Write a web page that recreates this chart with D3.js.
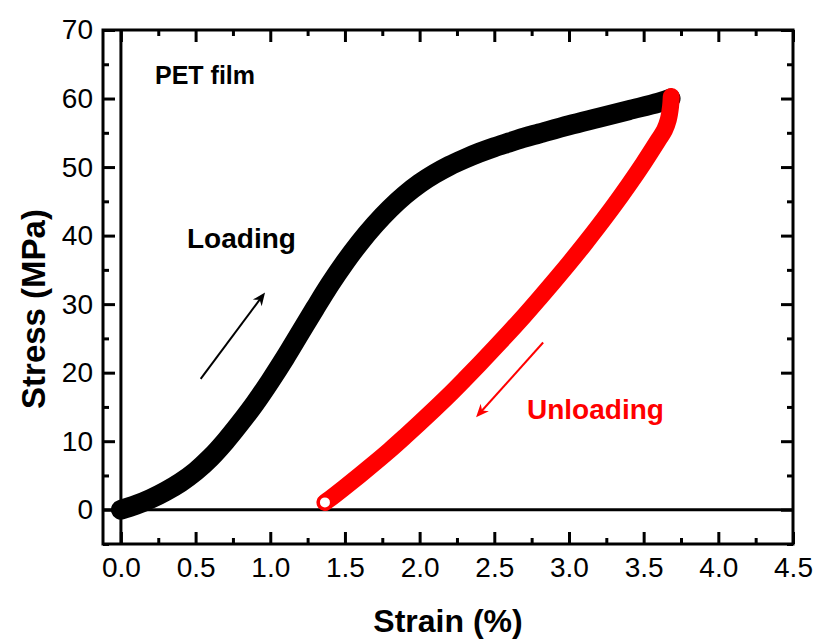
<!DOCTYPE html>
<html>
<head>
<meta charset="utf-8">
<script src="https://cdn.jsdelivr.net/npm/d3@7"></script>
<style>
  html, body { margin: 0; padding: 0; background: #fff; }
  svg text { font-family: "Liberation Sans", Arial, sans-serif; }
</style>
</head>
<body>
<svg id="chart" width="819" height="640"></svg>
<script>
// ---- data ----
const loadStrain = [0, 0.1, 0.2, 0.3, 0.4, 0.5, 0.6, 0.7, 0.8, 0.9, 1.0, 1.1, 1.2, 1.3, 1.4, 1.5, 1.6, 1.7, 1.8, 1.9, 2.0, 2.1, 2.2, 2.3, 2.4, 2.5, 2.6, 2.7, 2.8, 3.0, 3.2, 3.4, 3.6, 3.68];
const loadStress = [0, 0.7, 1.6, 2.7, 4.0, 5.6, 7.6, 10.0, 12.7, 15.6, 18.8, 22.2, 25.8, 29.4, 32.9, 36.1, 39.0, 41.6, 43.9, 45.9, 47.6, 49.0, 50.2, 51.2, 52.1, 52.9, 53.6, 54.3, 54.9, 56.1, 57.2, 58.3, 59.4, 60.0];

const unloadStrain = [3.685, 3.68, 3.665, 3.64, 3.6, 3.5, 3.4, 3.3, 3.2, 3.1, 3.0, 2.9, 2.8, 2.7, 2.6, 2.5, 2.4, 2.3, 2.2, 2.1, 2.0, 1.9, 1.8, 1.7, 1.6, 1.5, 1.4, 1.366];
const unloadStress = [60.3, 58.8, 56.9, 55.4, 54.0, 50.6, 47.4, 44.35, 41.45, 38.65, 35.95, 33.35, 30.8, 28.3, 25.9, 23.55, 21.25, 19.0, 16.8, 14.7, 12.65, 10.65, 8.7, 6.85, 5.05, 3.3, 1.6, 1.07];

const xTickValues = [0.0, 0.5, 1.0, 1.5, 2.0, 2.5, 3.0, 3.5, 4.0, 4.5];
const xMinorValues = [0.25, 0.75, 1.25, 1.75, 2.25, 2.75, 3.25, 3.75, 4.25];
const yTickValues = [0, 10, 20, 30, 40, 50, 60, 70];
const yMinorValues = [-5, 5, 15, 25, 35, 45, 55, 65];

const loadArrow = [[0.534, 19.1], [0.965, 31.7]];
const unloadArrow = [[2.827, 24.4], [2.378, 13.5]];

// ---- layout ----
const svg = d3.select("#chart");
const L = 103, R = 793, T = 30, B = 544;
const x = d3.scaleLinear().domain([-0.12, 4.5]).range([L, R]);
const y = d3.scaleLinear().domain([-5, 70]).range([B, T]);

const lineW = 3;

// zero lines
svg.append("line").attr("x1", x(0)).attr("x2", x(0)).attr("y1", T).attr("y2", B)
  .attr("stroke", "#000").attr("stroke-width", lineW);
svg.append("line").attr("x1", L).attr("x2", R).attr("y1", y(0)).attr("y2", y(0))
  .attr("stroke", "#000").attr("stroke-width", lineW);

// curves
const line = d3.line().x(d => x(d[0])).y(d => y(d[1])).curve(d3.curveCatmullRom.alpha(0.5));
const loadPts = loadStrain.map((s, i) => [s, loadStress[i]]);
const unloadPts = unloadStrain.map((s, i) => [s, unloadStress[i]]);

svg.append("path").attr("d", line(loadPts)).attr("fill", "none")
  .attr("stroke", "#000").attr("stroke-width", 20)
  .attr("stroke-linecap", "round").attr("stroke-linejoin", "round");
svg.append("path").attr("d", line(unloadPts)).attr("fill", "none")
  .attr("stroke", "#ff0000").attr("stroke-width", 17)
  .attr("stroke-linecap", "round").attr("stroke-linejoin", "round");

// final open marker of unloading
const lastU = unloadPts[unloadPts.length - 1];
svg.append("circle").attr("cx", x(lastU[0])).attr("cy", y(lastU[1])).attr("r", 6.5)
  .attr("fill", "#fff").attr("stroke", "#ff0000").attr("stroke-width", 3);

// axes (ticks inward)
function styleAxis(g) {
  g.select(".domain").remove();
  g.selectAll(".tick line").attr("stroke", "#000").attr("stroke-width", lineW);
  g.selectAll(".tick text").attr("fill", "#000").style("font-size", "28px");
}
const gBottom = svg.append("g").attr("transform", `translate(0,${B})`)
  .call(d3.axisBottom(x).tickValues(xTickValues).tickSize(-12).tickPadding(13).tickFormat(d3.format(".1f")));
styleAxis(gBottom);
const gBottomMinor = svg.append("g").attr("transform", `translate(0,${B})`)
  .call(d3.axisBottom(x).tickValues(xMinorValues).tickSize(-6).tickFormat(""));
styleAxis(gBottomMinor);
const gTop = svg.append("g").attr("transform", `translate(0,${T})`)
  .call(d3.axisTop(x).tickValues(xTickValues).tickSize(-12).tickFormat(""));
styleAxis(gTop);
const gTopMinor = svg.append("g").attr("transform", `translate(0,${T})`)
  .call(d3.axisTop(x).tickValues(xMinorValues).tickSize(-6).tickFormat(""));
styleAxis(gTopMinor);

const gLeft = svg.append("g").attr("transform", `translate(${L},0)`)
  .call(d3.axisLeft(y).tickValues(yTickValues).tickSize(-12).tickPadding(10).tickFormat(d3.format("d")));
styleAxis(gLeft);
const gLeftMinor = svg.append("g").attr("transform", `translate(${L},0)`)
  .call(d3.axisLeft(y).tickValues(yMinorValues).tickSize(-6).tickFormat(""));
styleAxis(gLeftMinor);
const gRight = svg.append("g").attr("transform", `translate(${R},0)`)
  .call(d3.axisRight(y).tickValues(yTickValues).tickSize(-12).tickFormat(""));
styleAxis(gRight);
const gRightMinor = svg.append("g").attr("transform", `translate(${R},0)`)
  .call(d3.axisRight(y).tickValues(yMinorValues).tickSize(-6).tickFormat(""));
styleAxis(gRightMinor);

// frame
svg.append("rect").attr("x", L).attr("y", T).attr("width", R - L).attr("height", B - T)
  .attr("fill", "none").attr("stroke", "#000").attr("stroke-width", lineW);

// arrows
function arrow(pts, color) {
  const x1 = x(pts[0][0]), y1 = y(pts[0][1]), x2 = x(pts[1][0]), y2 = y(pts[1][1]);
  const ang = Math.atan2(y2 - y1, x2 - x1);
  const hl = 13, hw = 5.5;
  const bx = x2 - hl * Math.cos(ang), by = y2 - hl * Math.sin(ang);
  svg.append("line").attr("x1", x1).attr("y1", y1)
    .attr("x2", x2 - 8 * Math.cos(ang)).attr("y2", y2 - 8 * Math.sin(ang))
    .attr("stroke", color).attr("stroke-width", 2);
  const nx = -Math.sin(ang), ny = Math.cos(ang);
  const back = 4;
  const cx = x2 - (hl - back) * Math.cos(ang), cy = y2 - (hl - back) * Math.sin(ang);
  svg.append("path")
    .attr("d", `M${x2},${y2}L${bx + nx * hw},${by + ny * hw}L${cx},${cy}L${bx - nx * hw},${by - ny * hw}Z`)
    .attr("fill", color);
}
arrow(loadArrow, "#000");
arrow(unloadArrow, "#ff0000");

// annotations
svg.append("text").attr("x", 155).attr("y", 84).text("PET film")
  .style("font-size", "25px").style("font-weight", "bold").attr("fill", "#000");
svg.append("text").attr("x", 187).attr("y", 248).text("Loading")
  .style("font-size", "28px").style("font-weight", "bold").attr("fill", "#000");
svg.append("text").attr("x", 527).attr("y", 419).text("Unloading")
  .style("font-size", "28px").style("font-weight", "bold").attr("fill", "#ff0000");

// axis titles
svg.append("text").attr("x", (L + R) / 2).attr("y", 632).attr("text-anchor", "middle")
  .text("Strain (%)").style("font-size", "32px").style("font-weight", "bold");
svg.append("text").attr("transform", "translate(45,309) rotate(-90)").attr("text-anchor", "middle")
  .text("Stress (MPa)").style("font-size", "33px").style("font-weight", "bold");
</script>
</body>
</html>
